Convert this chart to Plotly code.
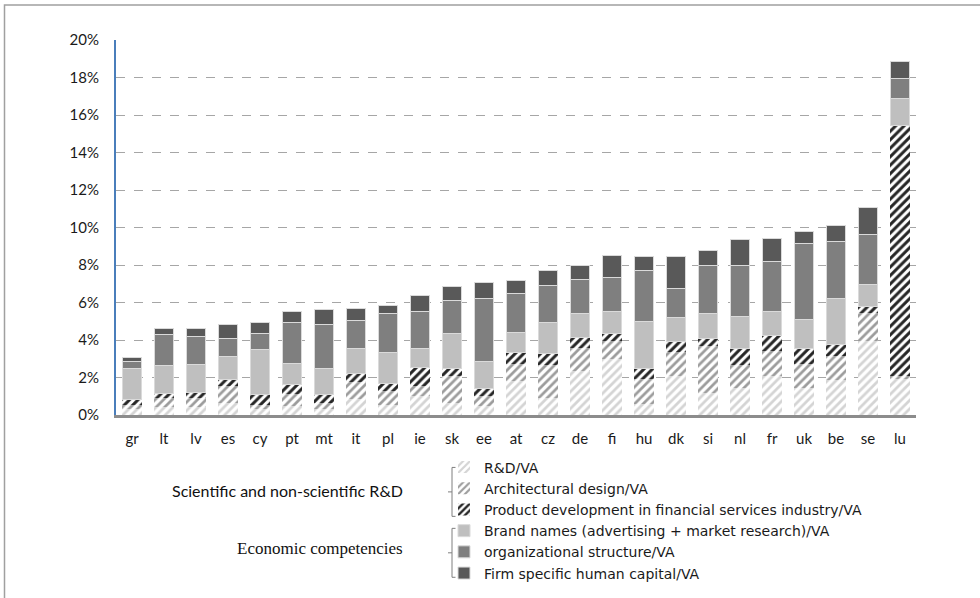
import plotly.graph_objects as go

countries = ["gr", "lt", "lv", "es", "cy", "pt", "mt", "it", "pl", "ie", "sk", "ee", "at",
             "cz", "de", "fi", "hu", "dk", "si", "nl", "fr", "uk", "be", "se", "lu"]

rd_va =      [0.30, 0.45, 0.45, 0.65, 0.30, 0.50, 0.30, 0.83, 0.56, 1.00, 0.65, 0.47, 1.80,
              0.92, 2.33, 3.00, 0.60, 2.07, 1.18, 1.45, 2.07, 1.45, 1.89, 3.93, 1.90]
arch_va =    [0.25, 0.47, 0.47, 0.92, 0.26, 0.60, 0.35, 0.92, 0.71, 0.56, 1.42, 0.57, 0.91,
              1.77, 1.23, 0.93, 1.31, 1.30, 2.52, 1.24, 1.37, 1.26, 1.24, 1.51, 0.20]
fin_va =     [0.28, 0.23, 0.29, 0.32, 0.52, 0.52, 0.43, 0.46, 0.39, 0.99, 0.43, 0.37, 0.62,
              0.57, 0.60, 0.40, 0.57, 0.53, 0.38, 0.85, 0.81, 0.83, 0.63, 0.36, 13.32]
brand_va =   [1.63, 1.49, 1.48, 1.24, 2.41, 1.12, 1.40, 1.33, 1.68, 0.99, 1.87, 1.44, 1.05,
              1.65, 1.26, 1.17, 2.53, 1.31, 1.31, 1.73, 1.25, 1.55, 2.48, 1.15, 1.44]
org_va =     [0.41, 1.65, 1.49, 0.96, 0.85, 2.22, 2.33, 1.50, 2.08, 1.97, 1.73, 3.36, 2.09,
              1.99, 1.80, 1.83, 2.69, 1.53, 2.57, 2.72, 2.68, 4.05, 2.99, 2.67, 1.07]
human_va =   [0.21, 0.30, 0.41, 0.73, 0.57, 0.57, 0.81, 0.62, 0.41, 0.86, 0.74, 0.87, 0.71,
              0.81, 0.74, 1.17, 0.78, 1.72, 0.79, 1.37, 1.21, 0.65, 0.88, 1.45, 0.92]

series_names = ["R&D/VA", "Architectural design/VA",
                "Product development in financial services industry/VA",
                "Brand names (advertising + market research)/VA",
                "organizational structure/VA", "Firm specific human capital/VA"]

y_ticks = [0, 2, 4, 6, 8, 10, 12, 14, 16, 18, 20]
y_tick_text = [f"{v}%" for v in y_ticks]

FONT = "Lato"

fig = go.Figure()

hatch_styles = [
    dict(fg="#D4D4D4", sol=0.45),
    dict(fg="#9C9C9C", sol=0.45),
    dict(fg="#262626", sol=0.5),
]
for name, vals, st in zip(series_names[:3], [rd_va, arch_va, fin_va], hatch_styles):
    fig.add_trace(go.Bar(
        x=countries, y=vals, name=name, width=0.6,
        marker=dict(color="white",
                    pattern=dict(shape="/", fgcolor=st["fg"], bgcolor="white",
                                 fgopacity=1, size=6, solidity=st["sol"],
                                 fillmode="replace"),
                    line=dict(width=0)),
    ))

solid_colors = ["#BFBFBF", "#7F7F7F", "#595959"]
for name, vals, col in zip(series_names[3:], [brand_va, org_va, human_va], solid_colors):
    fig.add_trace(go.Bar(
        x=countries, y=vals, name=name, width=0.6,
        marker=dict(color=col, line=dict(width=1, color="#DADADA")),
    ))

L, R, T, B = 116, 916, 40, 415.5
W, H = 980, 598


def px(x):
    return (x - L) / (R - L)


def py(y):
    return (B - y) / (B - T)


shapes = []
# outer frame
shapes.append(dict(type="rect", xref="paper", yref="paper",
                   x0=px(4.5), x1=px(990), y0=py(5), y1=py(610),
                   line=dict(color="#A0A0A0", width=1.5), fillcolor="rgba(0,0,0,0)",
                   layer="below"))

# brackets
for top, bot in [(468, 517), (529, 578)]:
    mid = (top + bot) / 2
    path = (f"M {px(455.5)},{py(top)} L {px(452)},{py(top)} L {px(452)},{py(bot)} "
            f"L {px(455.5)},{py(bot)} M {px(452)},{py(mid)} L {px(448)},{py(mid)}")
    shapes.append(dict(type="path", xref="paper", yref="paper", path=path,
                       line=dict(color="#7F7F7F", width=1)))

annotations = [
    dict(text="Scientific and non-scientific R&D", xref="paper", yref="paper",
         x=px(405), y=py(491), xanchor="right", yanchor="middle", showarrow=False,
         font=dict(family=FONT, size=16, color="#111111")),
    dict(text="Economic competencies", xref="paper", yref="paper",
         x=px(405), y=py(549), xanchor="right", yanchor="middle", showarrow=False,
         font=dict(family="Liberation Serif", size=17, color="#111111")),
]

fig.update_layout(
    width=W, height=H,
    margin=dict(l=L, r=W - R, t=T, b=H - B, autoexpand=False),
    barmode="stack",
    paper_bgcolor="white", plot_bgcolor="white",
    font=dict(family=FONT, size=14, color="#1a1a1a"),
    shapes=shapes, annotations=annotations,
    legend=dict(x=px(444), y=py(452), xanchor="left", yanchor="top",
                traceorder="normal",
                font=dict(family="DejaVu Sans", size=14, color="#1a1a1a"),
                itemwidth=30, tracegroupgap=0, bgcolor="rgba(0,0,0,0)"),
    bargap=0.4,
)

fig.update_xaxes(
    range=[-0.5, 24.5], showline=True, linecolor="#8C8C8C", linewidth=2.5,
    showgrid=False, ticks="", ticklabelstandoff=8, tickfont=dict(size=15),
)
fig.update_yaxes(
    range=[0, 20], tickvals=y_ticks, ticktext=y_tick_text,
    showline=True, linecolor="#4A7EBB", linewidth=2,
    showgrid=True, gridcolor="#A6A6A6", griddash="dash", gridwidth=1,
    zeroline=False, ticks="", ticklabelstandoff=12, tickfont=dict(size=15),
)

fig.write_html("out.html", config={"displayModeBar": False},
               post_script="document.body.style.margin='0';document.body.style.overflow='hidden';")
